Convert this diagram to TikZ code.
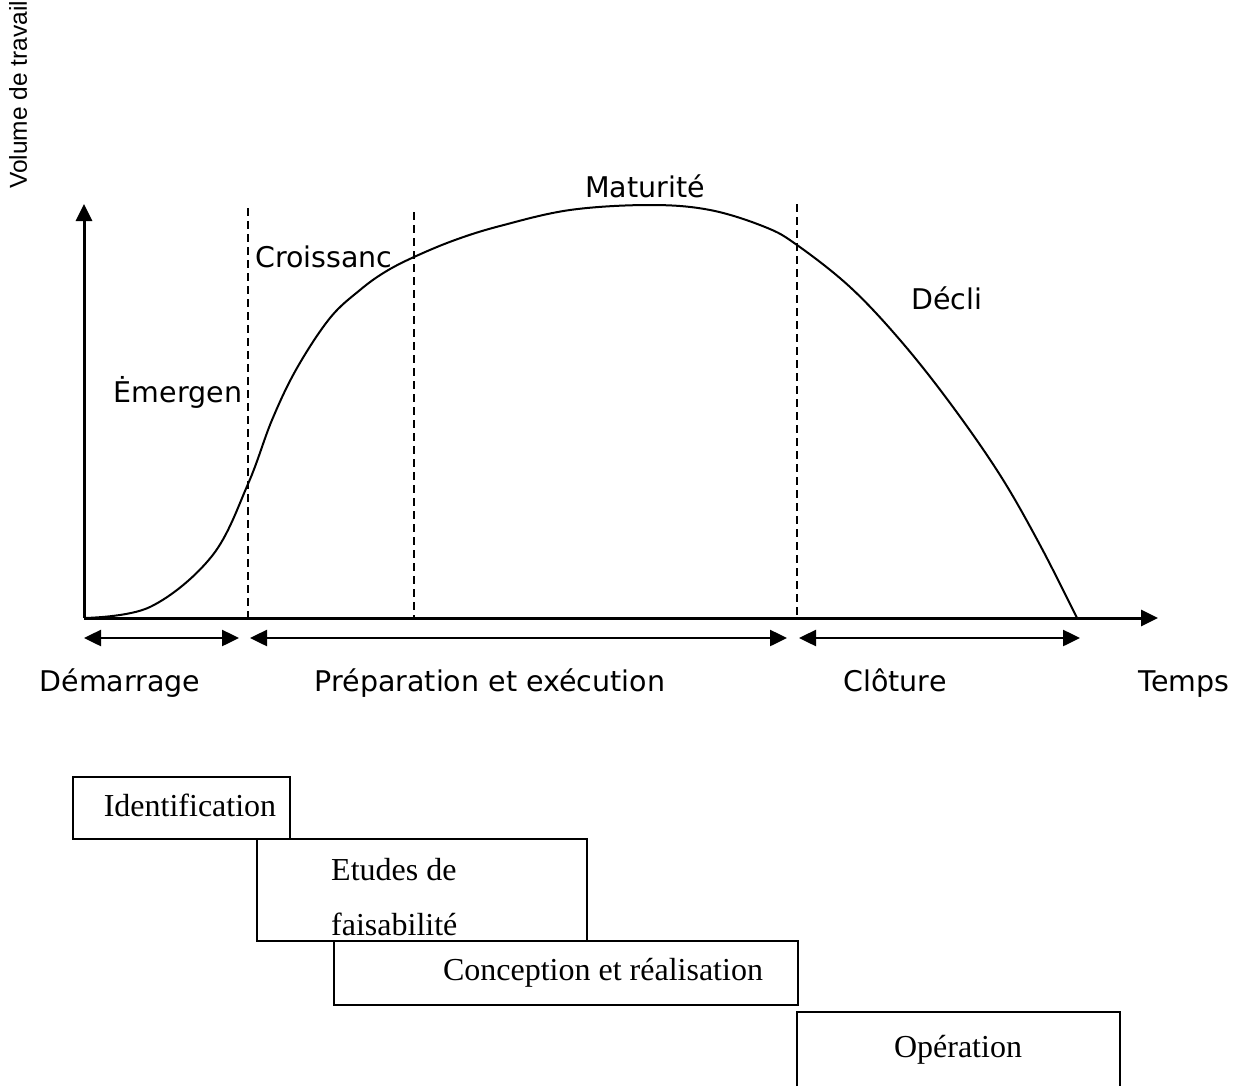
\documentclass[tikz,border=0pt]{standalone}
\usepackage{fontspec}
\setmainfont{Liberation Serif}
\newfontfamily\phasefont{DejaVu Sans}
\newfontfamily\axisfont{Liberation Sans}
\usetikzlibrary{arrows.meta}

\begin{document}
\begin{tikzpicture}[x=1pt,y=-1pt,
  axis/.style={line width=3pt,-{Triangle[length=17pt,width=16pt]}},
  span/.style={line width=2.5pt,{Triangle[length=17pt,width=16pt]}-{Triangle[length=17pt,width=16pt]}},
  divider/.style={line width=1.6pt,dash pattern=on 8pt off 5pt},
  curve/.style={line width=2pt},
  phase/.style={font=\phasefont\fontsize{28.5}{34}\selectfont,inner sep=0pt,anchor=base},
  stage/.style={font=\fontsize{32}{38}\selectfont,inner sep=0pt,anchor=base},
  stagebox/.style={draw,line width=2pt,anchor=north west,inner sep=0pt}
]
\useasboundingbox (0,0) rectangle (1249,1086);

% axes
\coordinate (O) at (84,618);
\coordinate (ytip) at (84,204);
\coordinate (xtip) at (1158,618);
\draw[axis] (O) -- (ytip);
\draw[axis] (O) -- (xtip);

% phase dividers
\coordinate (d1top) at (248,208);
\coordinate (d1bot) at (248,618);
\coordinate (d2top) at (414,212);
\coordinate (d2bot) at (414,618);
\coordinate (d3top) at (797,204);
\coordinate (d3bot) at (797,618);
\draw[divider] (d1top) -- (d1bot);
\draw[divider] (d2top) -- (d2bot);
\draw[divider] (d3top) -- (d3bot);

% workload curve
\draw[curve] plot[smooth,tension=0.6] coordinates {
  (84,618) (150,607) (212,556) (248,484) (272,420) (297,368) (330,318)
  (360,290) (385,272) (414,257) (455,240) (500,226) (570,210)
  (650,205) (710,210) (765,227) (797,245) (850,287) (900,340) (950,403)
  (1000,475) (1040,545) (1077,618)};

% duration spans
\coordinate (s1a) at (84,638);
\coordinate (s1b) at (239,638);
\coordinate (s2a) at (250,638);
\coordinate (s2b) at (787,638);
\coordinate (s3a) at (799,638);
\coordinate (s3b) at (1080,638);
\draw[span] (s1a) -- (s1b);
\draw[span] (s2a) -- (s2b);
\draw[span] (s3a) -- (s3b);

% axis title
\node[font=\axisfont\fontsize{24.5}{30}\selectfont,rotate=90,inner sep=0pt] (ytitle) at (18,95) {Volume de travail};

% curve phase labels
\node[phase] (emergen) at (178,402) {Ėmergen};
\node[phase] (croiss) at (324,267) {Croissanc};
\node[phase] (matur) at (645,197) {Maturité};
\node[phase] (decli) at (947,309) {Décli};

% time axis labels
\node[phase] (demarr) at (120,691) {Démarrage};
\node[phase] (prepa) at (490,691) {Préparation et exécution};
\node[phase] (cloture) at (895,691) {Clôture};
\node[phase] (temps) at (1184,691) {Temps};

% project stage boxes
\node[stagebox,minimum width=217pt,minimum height=62pt] (identbox) at (72,776) {};
\node[stage] (ident) at (190,816) {Identification};
\node[stagebox,minimum width=330pt,minimum height=102pt] (etubox) at (256,838) {};
\node[stage,anchor=base west] (etu1) at (331,880) {Etudes de};
\node[stage,anchor=base west] (etu2) at (331,935) {faisabilité};
\node[stagebox,minimum width=464pt,minimum height=64pt] (concbox) at (333,940) {};
\node[stage] (conc) at (603,980) {Conception et réalisation};
\coordinate (opbl) at (797,1086);
\coordinate (optl) at (797,1012);
\coordinate (optr) at (1120,1012);
\coordinate (opbr) at (1120,1086);
\draw[line width=2pt] (opbl) -- (optl) -- (optr) -- (opbr);
\node[stage] (oper) at (958,1057) {Opération};
\end{tikzpicture}
\end{document}
